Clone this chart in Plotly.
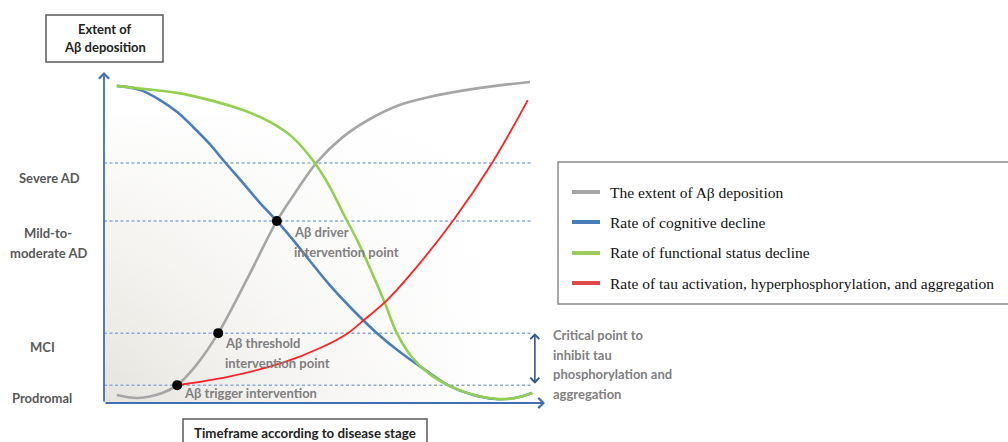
import plotly.graph_objects as go

W, H = 1008, 442

# ---------------- data ----------------
stage_names = ["Prodromal", "MCI", "Mild-to-<br>moderate AD", "Severe AD"]
stage_levels = [5.4, 21.1, 55.0, 72.5]

series_names = [
    "The extent of Aβ deposition",
    "Rate of cognitive decline",
    "Rate of functional status decline",
    "Rate of tau activation, hyperphosphorylation, and aggregation",
]

abeta_x = [2.9, 7.7, 13.2, 16.6, 20.6, 25.9, 32.7, 39.2, 43.8, 48.3, 54.2, 60.3, 66.7, 73.5, 85.3, 96.6]
abeta_y = [2.4, 1.5, 3.0, 5.4, 10.9, 21.1, 38.1, 55.0, 64.4, 72.8, 80.4, 85.8, 89.9, 92.4, 95.2, 97.0]

cog_x = [2.9, 5.9, 8.8, 12.7, 16.6, 20.2, 24.0, 27.4, 31.5, 35.4, 39.2, 42.9, 51.2, 56.9, 61.9, 67.1, 72.8, 78.0, 83.0, 88.7, 93.2, 97.1]
cog_y = [95.8, 95.3, 94.3, 91.5, 87.9, 83.4, 78.2, 72.8, 66.5, 60.4, 55.0, 49.2, 35.6, 27.5, 21.1, 15.4, 10.0, 5.4, 2.7, 1.2, 1.5, 3.0]

func_x = [2.9, 8.8, 16.6, 24.0, 31.5, 37.6, 42.9, 47.8, 51.2, 54.2, 57.4, 60.3, 63.7, 66.4, 69.8, 73.5, 78.9, 84.8, 89.3, 93.2, 97.1]
func_y = [95.8, 94.9, 93.7, 91.5, 88.5, 84.9, 80.1, 72.5, 65.3, 57.4, 49.2, 40.8, 30.2, 21.1, 13.9, 9.1, 4.8, 2.1, 1.2, 1.5, 3.0]

tau_x = [16.6, 28.1, 40.4, 49.0, 55.3, 58.7, 64.2, 69.4, 79.1, 88.0, 96.1]
tau_y = [5.4, 7.9, 12.1, 16.6, 21.1, 24.8, 31.1, 38.7, 55.0, 72.5, 91.5]

intervention_x = [16.6, 25.9, 39.2]
intervention_y = [5.4, 21.1, 55.0]
intervention_lines = [["Aβ trigger intervention"],
                      ["Aβ threshold", "intervention point"],
                      ["Aβ driver", "intervention point"]]

critical_text = ["Critical point to", "inhibit tau", "phosphorylation and", "aggregation"]

# ---------------- style ----------------
colors = ["#a6a6a6", "#4a7ebb", "#92d050", "#ff2020"]
legend_colors = ["#a6a6a6", "#4a7ebb", "#9bcb5c", "#dd4b4b"]
widths = [2.6, 2.6, 2.6, 1.8]
AXIS_C = "#3f6fb0"
LABEL_FONT = "Lato, 'Open Sans', sans-serif"


def px(x):
    return x / W


def py(y):
    return 1 - y / H


fig = go.Figure()

# background gradient (fades to white to the right and upward)
gx = [0, 88, 88, 0, 0]
gy = [0, 0, 87, 87, 0]
fig.add_trace(go.Scatter(x=gx, y=gy, mode="lines", fill="toself", line=dict(width=0),
                         fillgradient=dict(type="horizontal",
                                           colorscale=[[0, "#e6e4dd"], [0.45, "#f4f3f1"], [1, "#ffffff"]]),
                         hoverinfo="skip", showlegend=False))
fig.add_trace(go.Scatter(x=gx, y=gy, mode="lines", fill="toself", line=dict(width=0),
                         fillgradient=dict(type="vertical",
                                           colorscale=[[0, "rgba(255,255,255,0)"], [1, "rgba(255,255,255,0.97)"]]),
                         hoverinfo="skip", showlegend=False))

# stage dashed lines
for lvl in stage_levels:
    fig.add_trace(go.Scatter(x=[0, 97.1], y=[lvl, lvl], mode="lines",
                             line=dict(color="#8eaadb", width=1.5, dash="3px,2.5px"),
                             hoverinfo="skip", showlegend=False))

# curves
for xs, ys, c, w, n in zip([abeta_x, cog_x, func_x, tau_x], [abeta_y, cog_y, func_y, tau_y],
                           colors, widths, series_names):
    fig.add_trace(go.Scatter(x=xs, y=ys, mode="lines", name=n,
                             line=dict(color=c, width=w, shape="spline", smoothing=1.0),
                             showlegend=False))

# intervention points
fig.add_trace(go.Scatter(x=intervention_x, y=intervention_y, mode="markers",
                         marker=dict(color="black", size=10), showlegend=False))

ann = []
# intervention labels
offsets = [(5, -8), (5, -10), (15, -11)]
for xi, yi, lines, (dx, dy) in zip(intervention_x, intervention_y, intervention_lines, offsets):
    for k, t in enumerate(lines):
        ann.append(dict(x=xi, y=yi, xref="x", yref="y", text=t, showarrow=False,
                        xanchor="left", yanchor="middle", xshift=dx, yshift=dy - 20 * k,
                        font=dict(family=LABEL_FONT, size=13, color="#7f7f7f", weight="bold")))

# axes arrows
ann.append(dict(x=100, y=0, ax=0, ay=0, xref="x", yref="y", axref="x", ayref="y", text="",
                showarrow=True, arrowhead=4, arrowsize=1.1, arrowwidth=1.8, arrowcolor=AXIS_C))
ann.append(dict(x=0, y=100, ax=0, ay=0, xref="x", yref="y", axref="x", ayref="y", text="",
                showarrow=True, arrowhead=4, arrowsize=1.1, arrowwidth=1.8, arrowcolor=AXIS_C))
# critical double arrow
ann.append(dict(x=97.7, y=stage_levels[1], ax=97.7, ay=stage_levels[0], xref="x", yref="y",
                axref="x", ayref="y", text="", showarrow=True, arrowside="end+start",
                arrowhead=4, startarrowhead=4, arrowsize=1.1, startarrowsize=1.1,
                arrowwidth=1.6, arrowcolor="#2f5597"))

# stage labels (one annotation per text line)
stage_pos = [(42, 398), (42, 347), (48, 233), (49, 178)]
for name, (sx, sy) in zip(stage_names, stage_pos):
    for k, t in enumerate(name.split("<br>")):
        ann.append(dict(x=px(sx), y=py(sy + 20 * k), xref="paper", yref="paper", text=t, showarrow=False,
                        xanchor="center", yanchor="middle",
                        font=dict(family=LABEL_FONT, size=13, color="#595959", weight="bold")))

# critical point text
for k, t in enumerate(critical_text):
    ann.append(dict(x=px(551), y=py(335 + 19.7 * k), xref="paper", yref="paper", text=t,
                    showarrow=False, xanchor="left", yanchor="middle",
                    font=dict(family=LABEL_FONT, size=13, color="#7f7f7f", weight="bold")))

# axis title boxes
ann.append(dict(x=px(104.5), y=py(29), xref="paper", yref="paper", text="Extent of", showarrow=False,
                xanchor="center", yanchor="middle",
                font=dict(family=LABEL_FONT, size=13, color="#222222", weight="bold")))
ann.append(dict(x=px(104.5), y=py(47), xref="paper", yref="paper", text="Aβ deposition", showarrow=False,
                xanchor="center", yanchor="middle",
                font=dict(family=LABEL_FONT, size=13, color="#222222", weight="bold")))
ann.append(dict(x=px(305), y=py(433), xref="paper", yref="paper", text="Timeframe according to disease stage",
                showarrow=False, xanchor="center", yanchor="middle",
                font=dict(family=LABEL_FONT, size=13.3, color="#222222", weight="bold")))

shapes = [
    dict(type="rect", xref="paper", yref="paper", x0=px(46), x1=px(163), y0=py(62), y1=py(15),
         line=dict(color="#5a5a5a", width=1.5)),
    dict(type="rect", xref="paper", yref="paper", x0=px(183), x1=px(427), y0=py(446), y1=py(419),
         line=dict(color="#5a5a5a", width=1.5)),
    # legend box
    dict(type="rect", xref="paper", yref="paper", x0=px(558), x1=px(1012), y0=py(304), y1=py(162),
         line=dict(color="#8a8a8a", width=1.5), fillcolor="white"),
]

# manual legend
legend_rows = [192, 222, 253, 283]
for name, c, ry in zip(series_names, legend_colors, legend_rows):
    shapes.append(dict(type="line", xref="paper", yref="paper", x0=px(572), x1=px(600),
                       y0=py(ry), y1=py(ry), line=dict(color=c, width=4)))
    ann.append(dict(x=px(608), y=py(ry), xref="paper", yref="paper", text=name, showarrow=False,
                    xanchor="left", yanchor="middle",
                    font=dict(family="'Liberation Serif', 'Times New Roman', serif", size=15.5, color="#111111")))

fig.update_layout(
    width=W, height=H,
    margin=dict(l=0, r=0, t=0, b=0),
    paper_bgcolor="white", plot_bgcolor="rgba(0,0,0,0)",
    xaxis=dict(domain=[104 / W, 545 / W], range=[0, 100], visible=False, fixedrange=True),
    yaxis=dict(domain=[1 - 403 / H, 1 - 72 / H], range=[0, 100], visible=False, fixedrange=True),
    annotations=ann, shapes=shapes, showlegend=False,
)

fig.write_html("out.html", config={"displayModeBar": False},
               post_script="document.body.style.margin='0px';document.body.style.overflow='hidden';")
